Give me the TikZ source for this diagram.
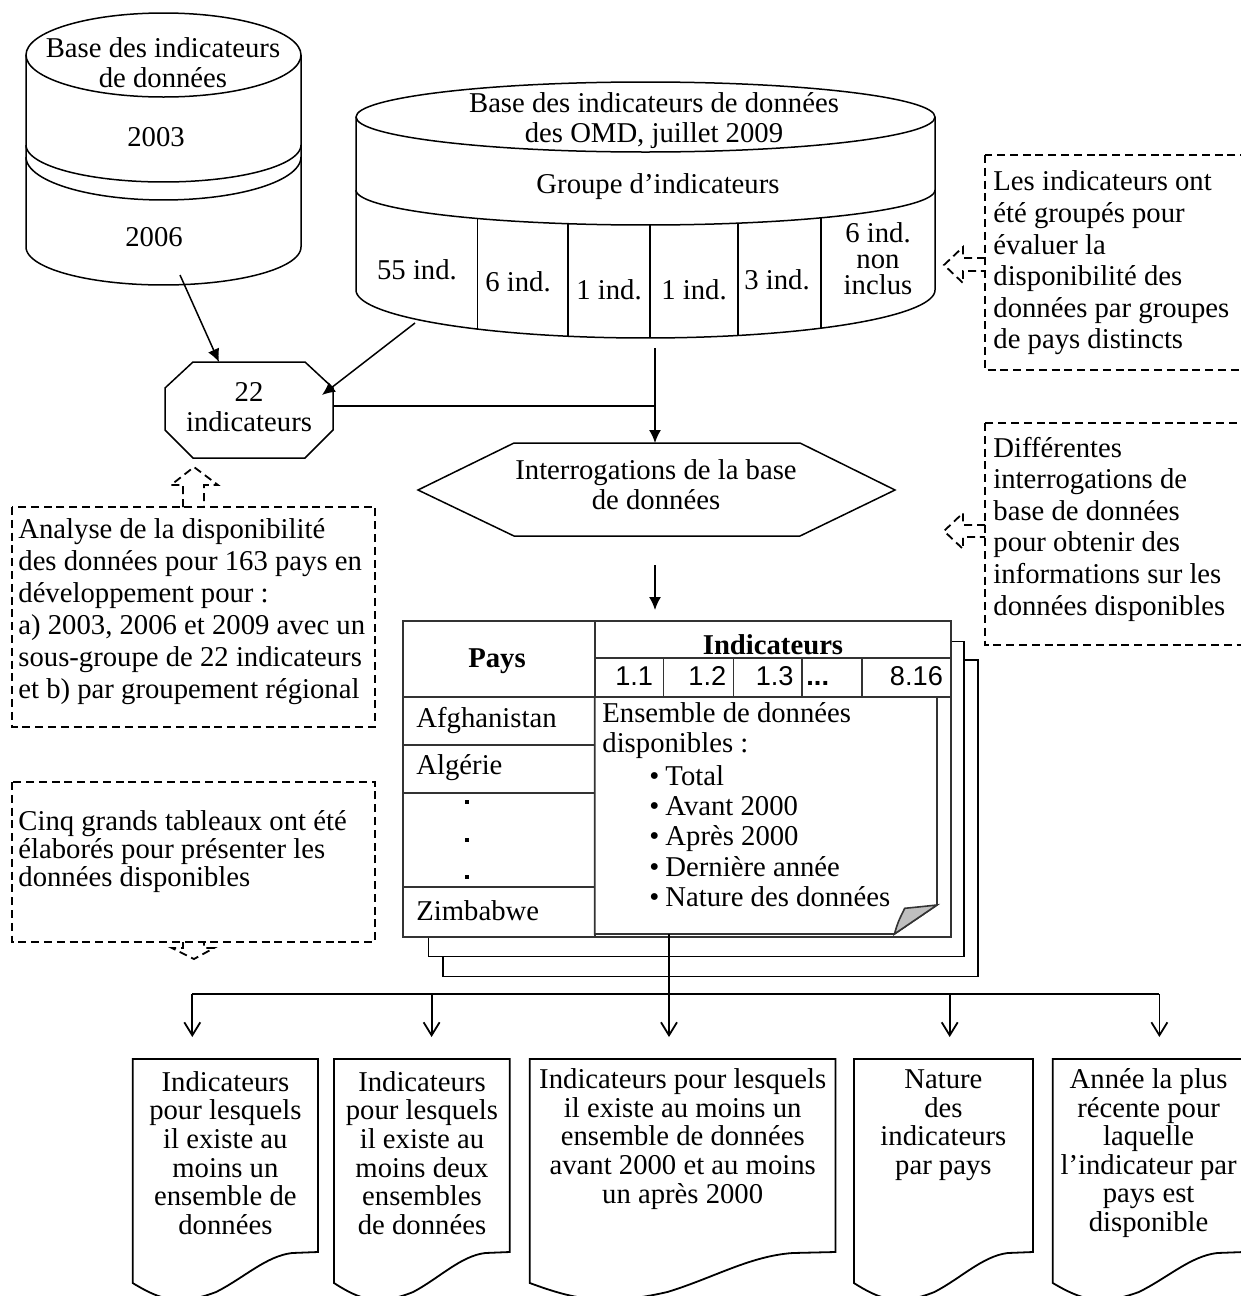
\documentclass[tikz,border=0pt]{standalone}
\usepackage{fontspec}
\setmainfont{Liberation Serif}
\newfontfamily\numfont{Liberation Sans}
\usetikzlibrary{arrows.meta}
\newcommand\docpath[2]{%
 \pgfmathsetmacro\docw{#2-#1}%
 \draw[conn,fill=white] (#1,1283) -- (#1,1059) -- (#2,1059) -- (#2,1252) -- ({#2-0.14*\docw},1253) .. controls ({#1+0.72*\docw},1256) and ({#1+0.6*\docw},1278) .. ({#1+0.45*\docw},1292) .. controls ({#1+0.25*\docw},1306) and ({#1+0.15*\docw},1300) .. (#1,1283) -- cycle;}
\begin{document}
\begin{tikzpicture}[x=0.5pt,y=-0.5pt,
 outl/.style={line width=0.75pt},
 conn/.style={line width=0.9pt},
 tab/.style={line width=0.8pt, draw=black!80},
 callout/.style={line width=0.9pt, dash pattern=on 4pt off 2.4pt},
 txt/.style={font=\fontsize{14.35}{15}\selectfont, inner sep=0pt, align=center},
 txtl/.style={font=\fontsize{14.35}{15.8}\selectfont, inner sep=0pt, align=left, anchor=west},
 txtb/.style={font=\fontsize{14.35}{15.8}\selectfont, inner sep=0pt, anchor=base west},
 doctxt/.style={font=\fontsize{14.35}{14.3}\selectfont, inner sep=0pt, align=center},
 num/.style={font=\numfont\fontsize{13.6}{15}\selectfont, inner sep=0pt, anchor=base east},
 fa/.style={-{Latex[length=6.5pt,width=6pt]}},
 oa/.style={-{Straight Barb[length=6.5pt,width=8pt]}},
]
\useasboundingbox (0,0) rectangle (1241,1296);
\fill[white] (0,0) rectangle (1241,1296);
\clip (0,0) rectangle (1241,1296);

% ---- left stacked cylinder
\draw[outl] (163.5,55) ellipse [x radius=137.5, y radius=42];
\draw[outl] (26,55) -- (26,247) -- plot[domain=180:0,samples=60] ({163.5+137.5*cos(\x)},{247+38*sin(\x)}) -- (301,55);
\draw[outl] plot[domain=180:0,samples=60] ({163.5+137.5*cos(\x)},{145+37*sin(\x)});
\draw[outl] plot[domain=180:0,samples=60] ({163.5+137.5*cos(\x)},{157+43*sin(\x)});
\node[txt] (baseA) at (163,63) {Base des indicateurs\\de données};
\node[txt] (y2003) at (156,137) {2003};
\node[txt] (y2006) at (154,237) {2006};

% ---- big cylinder
\draw[outl] (645.5,117) ellipse [x radius=289.5, y radius=35];
\draw[outl] (356,117) -- (356,290) -- plot[domain=180:0,samples=90] ({645.5+289.5*cos(\x)},{290+48*sin(\x)}) -- (935,117);
\draw[outl] plot[domain=180:0,samples=90] ({645.5+289.5*cos(\x)},{190+35*sin(\x)});
\foreach \dx/\tp/\bt in {477.5/218.5/329.1, 568/223.7/336.2, 650/225/338, 738/223.2/335.5, 821/217.8/328.2}
  \draw[outl] (\dx,\tp) -- (\dx,\bt);
\node[txt] (baseB) at (654,121) {Base des indicateurs de données\\des OMD, juillet 2009};
\node[txt] (grp) at (658,187) {Groupe d’indicateurs};
\node[txt] (g1) at (417,270) {55 ind.};
\node[txt] (g2) at (518,282) {6 ind.};
\node[txt] (g3) at (609,290) {1 ind.};
\node[txt] (g4) at (694,290) {1 ind.};
\node[txt] (g5) at (777,280) {3 ind.};
\node[txt, font=\fontsize{14.35}{13}\selectfont] (g6) at (878,259) {6 ind.\\non\\inclus};

% ---- octagon
\draw[outl] (193,362) -- (305,362) -- (333,388) -- (333,430) -- (305,458) -- (193,458) -- (165,430) -- (165,388) -- cycle;
\node[txt] (oct) at (249,407) {22\\indicateurs};

% ---- hexagon
\draw[outl] (418,490) -- (514,443) -- (800,443) -- (895,490) -- (800,536) -- (514,536) -- cycle;
\node[txt] (hex) at (656,485) {Interrogations de la base\\de données};

% ---- connectors (top)
\coordinate (cylAout) at (180,275);
\coordinate (octN) at (219,362);
\coordinate (cylBout) at (415,323);
\coordinate (octNE) at (322,395);
\coordinate (cylBbot) at (655,348);
\coordinate (hexN) at (655,443);
\coordinate (octE) at (333,406);
\coordinate (join) at (655,406);
\coordinate (hexOut) at (655,565);
\coordinate (tabN) at (655,610);
\draw[outl,fa] (cylAout) -- (octN);
\draw[outl,fa] (cylBout) -- (octNE);
\draw[outl,fa] (cylBbot) -- (hexN);
\draw[outl] (octE) -- (join);
\draw[outl,fa] (hexOut) -- (tabN);

% ---- stacked pages and table
\draw[outl,fill=white] (442.8,660) rectangle (978,976.7);
\draw[outl,fill=white] (428.3,641.7) rectangle (964,956.7);
\draw[tab,fill=white] (403,621) rectangle (951,937);
\draw[tab] (594.7,621) -- (594.7,937);
\draw[tab] (594.7,658) -- (951,658);
\draw[tab] (403,697) -- (951,697);
\foreach \xx in {663.3,733.3,801.7,861.7} \draw[tab] (\xx,658) -- (\xx,697);
\foreach \yy in {745,793,887} \draw[tab] (403,\yy) -- (594.7,\yy);
\draw[tab,fill=white] (594.7,697) -- (937,697) -- (937,905) -- (894.4,934) -- (594.7,934) -- cycle;
\draw[tab,fill=black!25] (894.4,934) .. controls (898,922) .. (904.7,908.3) .. controls (918,907) .. (937,905) -- cycle;
\node[txt, font=\bfseries\fontsize{14.35}{15}\selectfont] (pays) at (497,661) {Pays};
\node[txt, font=\bfseries\fontsize{14.35}{15}\selectfont] (indic) at (773,645) {Indicateurs};
\node[num] (n1) at (653.5,685) {1.1};
\node[num] (n2) at (726.7,685) {1.2};
\node[num] (n3) at (794,685) {1.3};
\node[num, anchor=base west] (n4) at (806,685) {\textbf{...}};
\node[num] (n5) at (943.3,685) {8.16};
\node[txtl] (afg) at (416,720) {Afghanistan};
\node[txtl] (alg) at (416,768) {Algérie};
\node[txtl] (zim) at (416,911) {Zimbabwe};
\foreach \yy in {802,840,877} \fill ({466.5-2},{\yy-2}) rectangle ({466.5+2},{\yy+2});
\node[txtl] (ens) at (602,713) {Ensemble de données};
\node[txtl] (dispo) at (602,746) {disponibles :};
\foreach \lab/\yy [count=\i] in {Total/785, Avant 2000/815, Après 2000/845, Dernière année/876, Nature des données/906}
  \node[txtb] (bul\i) at (649,\yy) {•\kern3pt \lab};

% ---- callouts
\draw[callout] (985,155) rectangle (1260,370);
\draw[callout] (985,258) -- (963,258) -- (963,247) -- (944,265) -- (963,283) -- (963,271) -- (985,271);
\node[txtl] (grpnote) at (993,263) {Les indicateurs ont\\été groupés pour\\évaluer la\\disponibilité des\\données par groupes\\de pays distincts};
\draw[callout] (985,423) rectangle (1260,645);
\draw[callout] (985,525) -- (963,525) -- (963,513) -- (944,531) -- (963,549) -- (963,537) -- (985,537);
\node[txtl] (intnote) at (993,529) {Différentes\\interrogations de\\base de données\\pour obtenir des\\informations sur les\\données disponibles};
\draw[callout] (12,507) rectangle (375,727);
\draw[callout] (183,507) -- (183,485) -- (171,485) -- (194,467) -- (218,485) -- (204,485) -- (204,507);
\node[txtl, font=\fontsize{14.35}{16}\selectfont] (ana) at (18,612) {Analyse de la disponibilité\\des données pour 163 pays en\\développement pour :\\a) 2003, 2006 et 2009 avec un\\sous-groupe de 22 indicateurs\\et b) par groupement régional};
\draw[callout] (12,782) rectangle (375,942);
\draw[callout] (183,942) -- (183,948) -- (172,948) -- (194,959) -- (214,948) -- (204,948) -- (204,942);
\node[txtl, font=\fontsize{14.35}{14}\selectfont] (cinq) at (18,852) {Cinq grands tableaux ont été\\élaborés pour présenter les\\données disponibles};

% ---- bottom distribution
\coordinate (noteS) at (669,934);
\coordinate (busL) at (192.3,994);
\coordinate (busR) at (1159.4,994);
\coordinate (b2) at (431.6,994);
\coordinate (b4) at (949.7,994);
\coordinate (d1N) at (192.3,1037);
\coordinate (d2N) at (431.6,1037);
\coordinate (d3N) at (669,1037);
\coordinate (d4N) at (949.7,1037);
\coordinate (d5N) at (1159.4,1037);
\draw[conn] (busL) -- (busR);
\draw[conn,oa] (noteS) -- (d3N);
\draw[conn,oa] (busL) -- (d1N);
\draw[conn,oa] (b2) -- (d2N);
\draw[conn,oa] (b4) -- (d4N);
\draw[conn,oa] (busR) -- (d5N);

% ---- documents
\docpath{132.7}{318}
\docpath{334}{509.8}
\docpath{529.8}{835.5}
\docpath{853.9}{1032.9}
\docpath{1052.8}{1244}
\node[doctxt] (doc1) at (225.4,1153) {Indicateurs\\pour lesquels\\il existe au\\moins un\\ensemble de\\données};
\node[doctxt] (doc2) at (422,1153) {Indicateurs\\pour lesquels\\il existe au\\moins deux\\ensembles\\de données};
\node[doctxt] (doc3) at (682.7,1139) {Indicateurs pour lesquels\\il existe au moins un\\ensemble de données\\avant 2000 et au moins\\un après 2000};
\node[doctxt] (doc4) at (943.4,1125) {Nature\\des\\indicateurs\\par pays};
\node[doctxt] (doc5) at (1148.6,1153) {Année la plus\\récente pour\\laquelle\\l’indicateur par\\pays est\\disponible};
\end{tikzpicture}
\end{document}
